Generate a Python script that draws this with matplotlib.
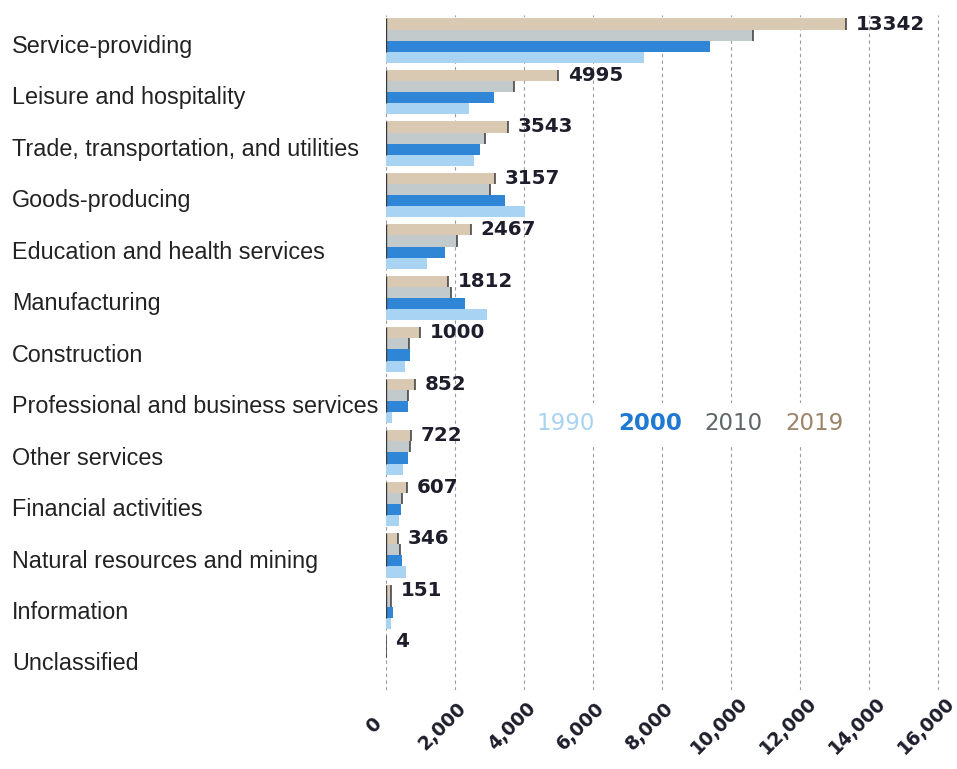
import numpy as np
import matplotlib
matplotlib.use("Agg")
import matplotlib.pyplot as plt
from matplotlib.transforms import ScaledTranslation, blended_transform_factory

# Employment by industry, four benchmark years
industries = [
    "Service-providing",
    "Leisure and hospitality",
    "Trade, transportation, and utilities",
    "Goods-producing",
    "Education and health services",
    "Manufacturing",
    "Construction",
    "Professional and business services",
    "Other services",
    "Financial activities",
    "Natural resources and mining",
    "Information",
    "Unclassified",
]
years = ["1990", "2000", "2010", "2019"]
jobs_1990 = [7470, 2420, 2550, 4050, 1190, 2940, 550, 180, 500, 400, 600, 150, 0]
jobs_2000 = [9400, 3130, 2720, 3450, 1720, 2290, 710, 660, 650, 450, 470, 200, 0]
jobs_2010 = [10650, 3720, 2870, 3010, 2080, 1900, 680, 660, 700, 480, 420, 140, 2]
jobs_2019 = [13342, 4995, 3543, 3157, 2467, 1812, 1000, 852, 722, 607, 346, 151, 4]
colors = ["#a9d3f3", "#2f86d6", "#c3cacc", "#d9c9b3"]
xticks = np.arange(0, 16001, 2000)

plt.rcParams["font.family"] = ["Liberation Sans", "DejaVu Sans"]

fig = plt.figure(figsize=(9.57, 7.69), dpi=100)
ax = fig.add_axes([0.403, 0.103, 0.579, 0.877])

y = np.arange(len(industries)) - 0.06
h = 0.215
series = [jobs_1990, jobs_2000, jobs_2010, jobs_2019]
offsets = [1.5 * h, 0.5 * h, -0.5 * h, -1.5 * h]
bars = []
for vals, off, col, yr in zip(series, offsets, colors, years):
    b = ax.barh(y + off, vals, height=h, color=col, label=yr, zorder=3)
    bars.append(b)

# thin dark caps at the ends of the 2010 and 2019 bars
for vals, off in [(jobs_2010, -0.5 * h), (jobs_2019, -1.5 * h)]:
    ax.vlines(vals, y + off - h / 2, y + off + h / 2, color="#3a3a3a",
              linewidth=1.1, zorder=4)
has_bars = np.array(jobs_2019) >= 100
ax.vlines(np.zeros(has_bars.sum()), y[has_bars] - 2 * h, y[has_bars] + h,
          color="#3a3a3a", linewidth=1.0, zorder=4)

# value labels on the 2019 bars
for yi, v in zip(y, jobs_2019):
    ax.annotate(str(v), (v, yi - 1.5 * h), xytext=(7, 0),
                textcoords="offset points", va="center", ha="left",
                fontsize=14.3, fontweight="bold", color="#1d1d2b",
                family="DejaVu Sans", zorder=5)

ax.set_xlim(0, 16050)
ax.set_ylim(len(industries) - 0.45, -0.55)
ax.set_xticks(xticks)
ax.set_xticklabels([])
# rotated x labels, nudged a little left of their ticks
xlab_tf = blended_transform_factory(ax.transData, ax.transAxes) + \
    ScaledTranslation(-12 / 100, -36 / 100, fig.dpi_scale_trans)
for t in xticks:
    ax.text(t, 0, f"{t:,}", transform=xlab_tf, rotation=45, ha="center",
            va="center", fontsize=13.5, fontweight="bold", color="#1d1d2b",
            family="DejaVu Sans", clip_on=False)

ax.set_yticks(np.arange(len(industries)))
ax.set_yticklabels(industries, fontsize=16.8, color="#222222")
for lab in ax.get_yticklabels():
    lab.set_horizontalalignment("left")
ax.tick_params(axis="y", length=0, pad=269)
ax.tick_params(axis="x", length=0)

ax.grid(axis="x", linestyle=(0, (3, 3)), color="#9a9a9a", linewidth=0.8, zorder=0)
for s in ax.spines.values():
    s.set_visible(False)

leg = ax.legend(handles=bars, ncol=4, loc="center", bbox_to_anchor=(0.55, 0.395),
                handlelength=0, handletextpad=0, columnspacing=1.0,
                frameon=True, framealpha=1, edgecolor="none", facecolor="white",
                prop={"size": 16.5, "family": "DejaVu Sans"})
for handle in leg.legend_handles:
    handle.set_visible(False)
legend_colors = ["#a9d3f3", "#1f78d1", "#5f6668", "#9c8468"]
for txt, col in zip(leg.get_texts(), legend_colors):
    txt.set_color(col)
leg.get_texts()[1].set_fontweight("bold")
leg.set_zorder(6)

fig.savefig("out.png", dpi=100)
